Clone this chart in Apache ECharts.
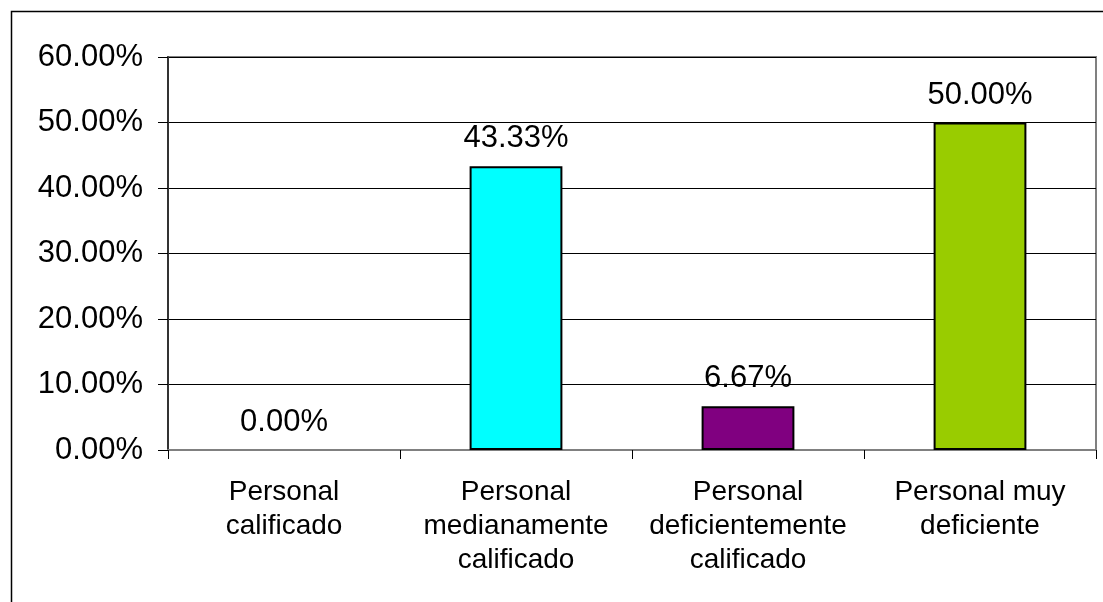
<!DOCTYPE html>
<html>
<head>
<meta charset="utf-8">
<script src="https://cdn.jsdelivr.net/npm/echarts@6/dist/echarts.min.js"></script>
<style>
  html, body { margin: 0; padding: 0; background: #fff; }
  #chart { width: 1103px; height: 602px; }
</style>
</head>
<body>
<div id="chart"></div>
<script>
// datos del gráfico
var categorias = ['Personal\ncalificado', 'Personal\nmedianamente\ncalificado', 'Personal\ndeficientemente\ncalificado', 'Personal muy\ndeficiente'];
var porcentajes = [0.00, 43.33, 6.67, 50.00];
var colores = ['#ffffff', '#00ffff', '#800080', '#99cc00'];
var ticksY = [0, 10, 20, 30, 40, 50, 60];

var chart = echarts.init(document.getElementById('chart'));
var fuente = 'Liberation Sans, Arial, sans-serif';

var option = {
  animation: false,
  backgroundColor: '#fff',
  graphic: [{
    type: 'rect',
    left: 9, top: 9,
    shape: { width: 1200, height: 700 },
    style: { fill: 'none', stroke: '#000', lineWidth: 1.5 },
    silent: true
  }],
  grid: {
    left: 168, right: 7, top: 57, bottom: 152,
    show: true, borderColor: '#808080', borderWidth: 2, containLabel: false
  },
  xAxis: {
    type: 'category',
    data: categorias,
    axisLine: { lineStyle: { color: '#808080', width: 2 } },
    axisTick: { show: true, length: 9, lineStyle: { color: '#000' } },
    axisLabel: { color: '#000', fontFamily: fuente, fontSize: 28, lineHeight: 34, margin: 25, interval: 0 }
  },
  yAxis: {
    type: 'value',
    min: ticksY[0], max: ticksY[ticksY.length - 1], interval: 10,
    axisLine: { show: true, lineStyle: { color: '#333', width: 2 } },
    axisTick: { show: true, length: 10, lineStyle: { color: '#000' } },
    splitLine: { lineStyle: { color: '#000', width: 1 } },
    axisLabel: {
      color: '#000', fontFamily: fuente, fontSize: 31, margin: 25,
      formatter: function (v) { return v.toFixed(2) + '%'; }
    }
  },
  series: [{
    type: 'bar',
    barWidth: '40%',
    data: porcentajes.map(function (v, i) {
      return { value: v, itemStyle: { color: colores[i], borderColor: '#000', borderWidth: v > 0 ? 2 : 0 } };
    }),
    label: {
      show: true, position: 'top', distance: 12,
      color: '#000', fontFamily: fuente, fontSize: 31,
      formatter: function (p) { return p.value.toFixed(2) + '%'; }
    }
  }]
};
chart.setOption(option);
</script>
</body>
</html>
